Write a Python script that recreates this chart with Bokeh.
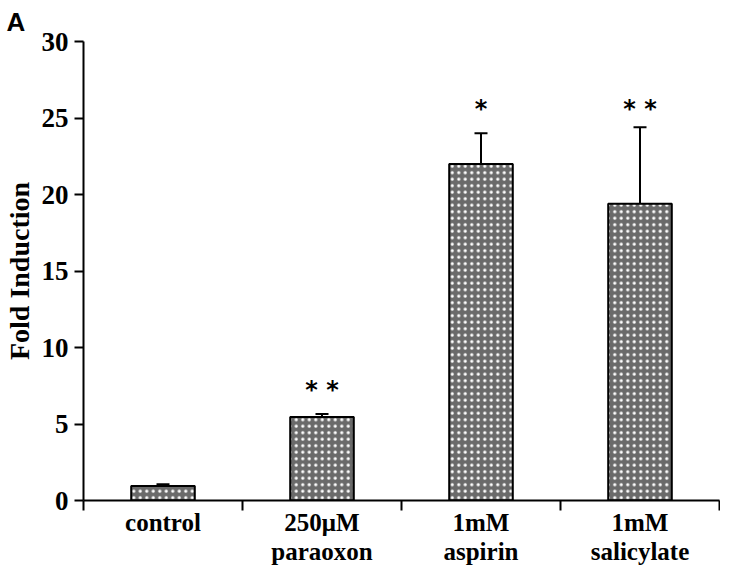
from bokeh.plotting import figure
from bokeh.models import (FactorRange, Range1d, Whisker, ColumnDataSource, FixedTicker,
                          TeeHead, LinearAxis)
from bokeh.core.properties import value
from bokeh.embed import file_html
from bokeh.resources import INLINE

# ---- data ----
categories = ["control", "250\u03bcM\nparaoxon", "1mM\naspirin", "1mM\nsalicylate"]
fold_induction = [0.95, 5.45, 22.0, 19.4]
error = [0.12, 0.2, 2.0, 5.0]
stars = ["", "* *", "*", "* *"]
star_height = [0, 7.2, 25.6, 25.6]
y_ticks = [0, 5, 10, 15, 20, 25, 30]

SERIF = "Liberation Serif"

src = ColumnDataSource(dict(
    cat=categories,
    val=fold_induction,
    upper=[v + e for v, e in zip(fold_induction, error)],
    lower=fold_induction,
    stars=stars,
    star_y=star_height,
))

p = figure(width=720, height=568,
           x_range=FactorRange(*categories, range_padding=0),
           y_range=Range1d(0, 30),
           x_axis_location=None,
           output_backend="svg", toolbar_location=None,
           min_border_left=77, min_border_right=1,
           min_border_top=34, min_border_bottom=64)

p.grid.visible = False
p.outline_line_color = None
p.background_fill_color = "white"
p.border_fill_color = "white"

# title "A"
p.title.text = "A"
p.title.text_font = "Liberation Sans"
p.title.text_font_size = "26px"
p.title.text_font_style = "bold"
p.title.text_color = "black"
p.title.align = "left"
p.title.offset = -77
p.title.standoff = 9

# y axis
yax = p.yaxis[0]
yax.ticker = FixedTicker(ticks=y_ticks)
yax.axis_label = "Fold Induction"
yax.axis_label_text_font = SERIF
yax.axis_label_text_font_size = "28px"
yax.axis_label_text_font_style = "bold"
yax.axis_label_text_color = "black"
yax.axis_label_text_line_height = 1.0
yax.axis_label_standoff = 4
yax.major_label_text_font = SERIF
yax.major_label_text_font_size = "27px"
yax.major_label_text_font_style = "bold"
yax.major_label_text_color = "black"
yax.major_label_standoff = 6
yax.axis_line_width = 2
yax.axis_line_color = "black"
yax.major_tick_line_width = 2
yax.major_tick_line_color = "black"
yax.major_tick_out = 9
yax.major_tick_in = 0
yax.minor_tick_line_color = None

# x axis: labels at category centres, tick marks at category edges
n = len(categories)
centres = [i + 0.5 for i in range(n)]
edges = [float(i) for i in range(n + 1)]
xax = LinearAxis(ticker=FixedTicker(ticks=centres, minor_ticks=edges))
xax.major_label_overrides = {c: name for c, name in zip(centres, categories)}
xax.axis_line_width = 2
xax.axis_line_color = "black"
xax.major_tick_line_color = None
xax.major_tick_out = 0
xax.major_tick_in = 0
xax.minor_tick_line_width = 2
xax.minor_tick_line_color = "black"
xax.minor_tick_out = 10
xax.minor_tick_in = 0
xax.major_label_standoff = -2
xax.major_label_text_font = SERIF
xax.major_label_text_font_size = "25px"
xax.major_label_text_font_style = "bold"
xax.major_label_text_color = "black"
xax.major_label_text_line_height = 1.1
p.add_layout(xax, "below")

# bars
p.vbar(x="cat", top="val", bottom=0, width=0.4, source=src,
       fill_color="#6a6a6a", line_color="black", line_width=2,
       hatch_pattern="dot", hatch_color="white", hatch_scale=6.5, hatch_weight=1.2)

# error bars (upper only)
wh = Whisker(base="cat", upper="upper", lower="lower", source=src,
             line_color="black", line_width=2,
             upper_head=TeeHead(size=13, line_width=2, line_color="black"),
             lower_head=None)
p.add_layout(wh)

# significance stars
p.text(x="cat", y="star_y", text="stars", source=src,
       text_align="center", text_baseline="middle",
       text_font=value("DejaVu Sans"), text_font_size="24px",
       text_font_style="bold", text_color="black")

open("out.html", "w").write(file_html(p, INLINE))
